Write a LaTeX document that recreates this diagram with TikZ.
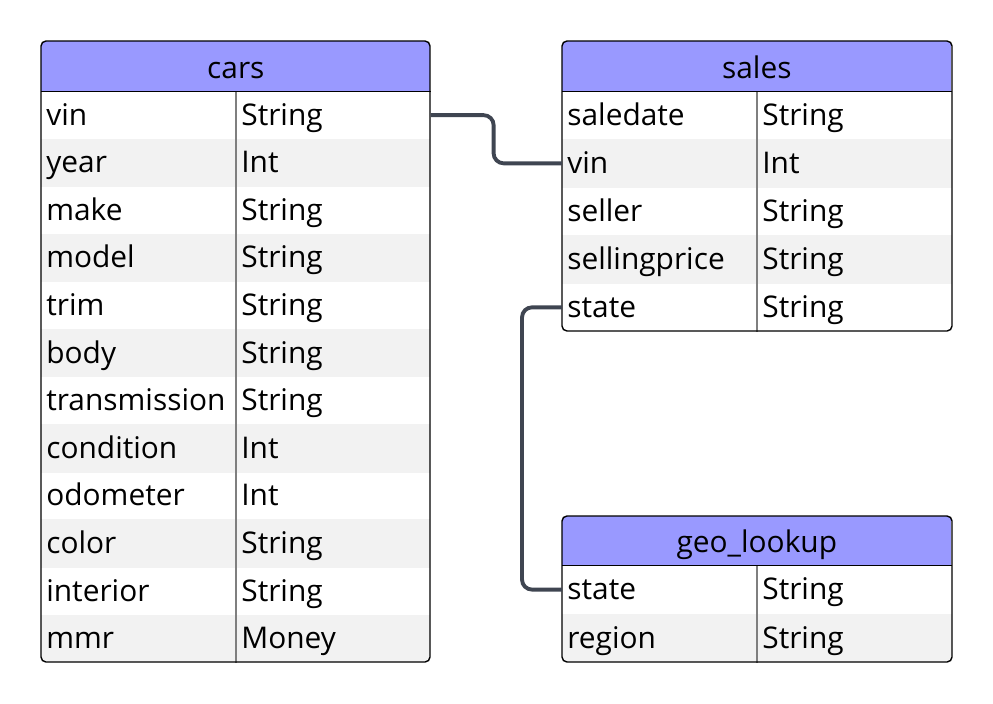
\documentclass[tikz,border=0pt]{standalone}
\usepackage{fontspec}
\setmainfont{Open Sans}
\usetikzlibrary{positioning}

\definecolor{hdrblue}{HTML}{9999FF}
\definecolor{rowgrey}{HTML}{F2F2F2}
\definecolor{divgrey}{HTML}{7F7F7F}
\definecolor{linkgrey}{HTML}{3F4551}

\tikzset{
  tablehdr/.style={fill=hdrblue, inner sep=0pt, anchor=north west,
    minimum width=7.78cm, minimum height=1cm,
    text height=0.48cm, text depth=0cm, font=\fontsize{17}{20}\selectfont},
  fieldrow/.style={inner sep=0pt, anchor=north west, minimum width=7.78cm},
  fieldtxt/.style={inner sep=0pt, anchor=base west, font=\fontsize{17}{20}\selectfont},
  tableedge/.style={draw=black, line width=0.8pt, rounded corners=0.1cm},
  hdrline/.style={draw=black, line width=0.9pt},
  coldiv/.style={draw=divgrey, line width=0.6pt},
  relation/.style={draw=linkgrey, line width=2.2pt, rounded corners=0.2cm},
}

\begin{document}
\begin{tikzpicture}[x=0.02cm, y=-0.02cm]
\useasboundingbox (0,0) rectangle (993,703);

% cars
\begin{scope}
  \clip[rounded corners=0.1cm] (41,41) rectangle (430,662);
  \node[tablehdr] (cars) at (41,41) {cars};
  \coordinate (cars-div) at (236,91);
  \foreach \fname/\ftype [count=\i] in {vin/String, year/Int, make/String,
      model/String, trim/String, body/String, transmission/String,
      condition/Int, odometer/Int, color/String, interior/String, mmr/Money} {
    \node[fieldrow, minimum height=0.952cm] (cars-\i) at (41,{91+47.6*(\i-1)}) {};
    \ifodd\i\else\fill[rowgrey] (cars-\i.north west) rectangle (cars-\i.south east);\fi
    \node[fieldtxt] (cars-\i-name) at ([xshift=0.1cm,yshift=-0.2cm]cars-\i.west) {\fname};
    \node[fieldtxt] (cars-\i-type) at ([xshift=0.1cm,yshift=-0.2cm]cars-\i.west -| cars-div) {\ftype};
  }
\end{scope}
\draw[coldiv] (cars-div) -- (cars-div |- cars-12.south);
\draw[tableedge] (41,41) rectangle (430,662);
\draw[hdrline] (cars.south west) -- (cars.south east);

% sales
\begin{scope}
  \clip[rounded corners=0.1cm] (562,41) rectangle (952,331);
  \node[tablehdr] (sales) at (562,41) {sales};
  \coordinate (sales-div) at (757,91);
  \foreach \fname/\ftype [count=\i] in {saledate/String, vin/Int, seller/String,
      sellingprice/String, state/String} {
    \node[fieldrow, minimum height=0.96cm] (sales-\i) at (562,{91+48*(\i-1)}) {};
    \ifodd\i\else\fill[rowgrey] (sales-\i.north west) rectangle (sales-\i.south east);\fi
    \node[fieldtxt] (sales-\i-name) at ([xshift=0.1cm,yshift=-0.2cm]sales-\i.west) {\fname};
    \node[fieldtxt] (sales-\i-type) at ([xshift=0.1cm,yshift=-0.2cm]sales-\i.west -| sales-div) {\ftype};
  }
\end{scope}
\draw[coldiv] (sales-div) -- (sales-div |- sales-5.south);
\draw[tableedge] (562,41) rectangle (952,331);
\draw[hdrline] (sales.south west) -- (sales.south east);

% geo_lookup
\begin{scope}
  \clip[rounded corners=0.1cm] (562,516) rectangle (952,662);
  \node[tablehdr, minimum height=0.98cm] (geo) at (562,516) {geo\_lookup};
  \coordinate (geo-div) at (757,565);
  \foreach \fname/\ftype [count=\i] in {state/String, region/String} {
    \node[fieldrow, minimum height=0.97cm] (geo-\i) at (562,{565+48.5*(\i-1)}) {};
    \ifodd\i\else\fill[rowgrey] (geo-\i.north west) rectangle (geo-\i.south east);\fi
    \node[fieldtxt] (geo-\i-name) at ([xshift=0.1cm,yshift=-0.2cm]geo-\i.west) {\fname};
    \node[fieldtxt] (geo-\i-type) at ([xshift=0.1cm,yshift=-0.2cm]geo-\i.west -| geo-div) {\ftype};
  }
\end{scope}
\draw[coldiv] (geo-div) -- (geo-div |- geo-2.south);
\draw[tableedge] (562,516) rectangle (952,662);
\draw[hdrline] (geo.south west) -- (geo.south east);

% relations
\draw[relation] (cars-1.east) -- ++(63,0) |- (sales-2.west);
\draw[relation] (sales-5.west) -- ++(-40,0) |- (geo-1.west);
\end{tikzpicture}
\end{document}
